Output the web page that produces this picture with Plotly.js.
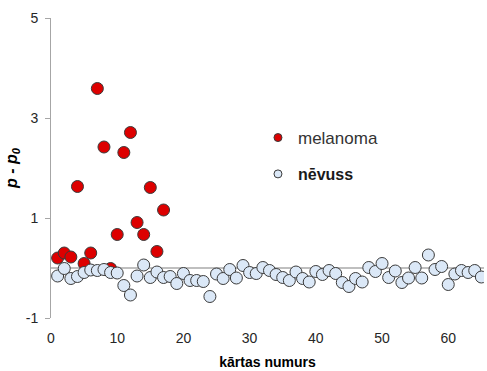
<!DOCTYPE html>
<html><head><meta charset="utf-8">
<script src="https://cdn.plot.ly/plotly-3.0.1.min.js"></script>
<style>body{margin:0;background:#fff}</style>
</head><body><div id="chart" style="width:487px;height:371px"></div>
<script>
const melanomaX = [1,2,3,4,5,6,7,8,9,10,11,12,13,14,15,16,17];
const melanomaY = [0.20,0.30,0.22,1.63,0.09,0.30,3.59,2.42,-0.01,0.67,2.31,2.71,0.91,0.67,1.61,0.33,1.16];
const nevussX = [1,2,3,4,5,6,7,8,9,10,11,12,13,14,15,16,17,18,19,20,21,22,23,24,25,26,27,28,29,30,31,32,33,34,35,36,37,38,39,40,41,42,43,44,45,46,47,48,49,50,51,52,53,54,55,56,57,58,59,60,61,62,63,64,65];
const nevussY = [-0.16,-0.01,-0.21,-0.17,-0.09,-0.04,-0.05,-0.03,-0.09,-0.10,-0.35,-0.54,-0.16,0.06,-0.19,-0.08,-0.19,-0.17,-0.31,-0.11,-0.25,-0.25,-0.27,-0.57,-0.12,-0.21,-0.03,-0.20,0.05,-0.09,-0.11,0.01,-0.05,-0.13,-0.19,-0.25,-0.08,-0.21,-0.28,-0.07,-0.13,-0.05,-0.11,-0.29,-0.37,-0.21,-0.28,0.01,-0.07,0.09,-0.19,-0.06,-0.29,-0.20,0.01,-0.20,0.26,-0.03,0.03,-0.33,-0.12,-0.05,-0.09,-0.05,-0.18];
const xTicks = [0,10,20,30,40,50,60];
const yTicks = [-1,1,3,5];
const seriesNames = ['melanoma','<b>nēvuss</b>'];

const redFill = '#dd0000', blueFill = '#dbe8f7', edge = '#3a3a3a';
const traces = [
  {x: melanomaX, y: melanomaY, type:'scatter', mode:'markers', showlegend:false,
   marker:{size:12, color:redFill, line:{color:edge, width:1}}},
  {x: nevussX, y: nevussY, type:'scatter', mode:'markers', showlegend:false,
   marker:{size:12, color:blueFill, line:{color:edge, width:1}}},
  {x:[null], y:[null], type:'scatter', mode:'markers', name:seriesNames[0], legend:'legend',
   marker:{size:8, color:redFill, line:{color:edge, width:1}}},
  {x:[null], y:[null], type:'scatter', mode:'markers', name:seriesNames[1], legend:'legend2',
   marker:{size:8, color:blueFill, line:{color:edge, width:1}}}
];
const tickFont = {family:'Liberation Sans, Arial, sans-serif', size:14, color:'#262626'};
const layout = {
  width:487, height:371,
  margin:{l:51, r:3, t:18, b:53},
  paper_bgcolor:'#fff', plot_bgcolor:'#fff',
  xaxis:{range:[0,65.4], showgrid:false, zeroline:false, showline:false, ticks:'',
    tickvals:xTicks, ticktext:xTicks.map(String), tickfont:tickFont, ticklabelstandoff:10,
    title:{text:'kārtas numurs', font:{family:'Liberation Sans, Arial, sans-serif', size:14, color:'#000', weight:'bold'}, standoff:12},
    automargin:false},
  yaxis:{range:[-1,5], showgrid:false, zeroline:true, zerolinecolor:'#bfbfbf', zerolinewidth:1.5,
    showline:true, linecolor:'#a6a6a6', linewidth:1, ticks:'outside', ticklen:5, tickcolor:'#a6a6a6',
    tickvals:yTicks, ticktext:yTicks.map(String), tickfont:tickFont, ticklabelstandoff:4,
    title:{text:'<b><i>p - p<sub>0</sub></i></b>', font:{family:'Liberation Sans, Arial, sans-serif', size:16, color:'#000'}, standoff:4},
    automargin:false},
  legend:{x:0.478, y:0.6, xanchor:'left', yanchor:'middle', bgcolor:'rgba(0,0,0,0)',
    font:{family:'Liberation Sans, Arial, sans-serif', size:17, color:'#333'}},
  legend2:{x:0.478, y:0.48, xanchor:'left', yanchor:'middle', bgcolor:'rgba(0,0,0,0)',
    font:{family:'Liberation Sans, Arial, sans-serif', size:16, color:'#1a1a1a'}},
  showlegend:true
};
Plotly.newPlot('chart', traces, layout, {displayModeBar:false, staticPlot:true});
</script>
</body></html>
